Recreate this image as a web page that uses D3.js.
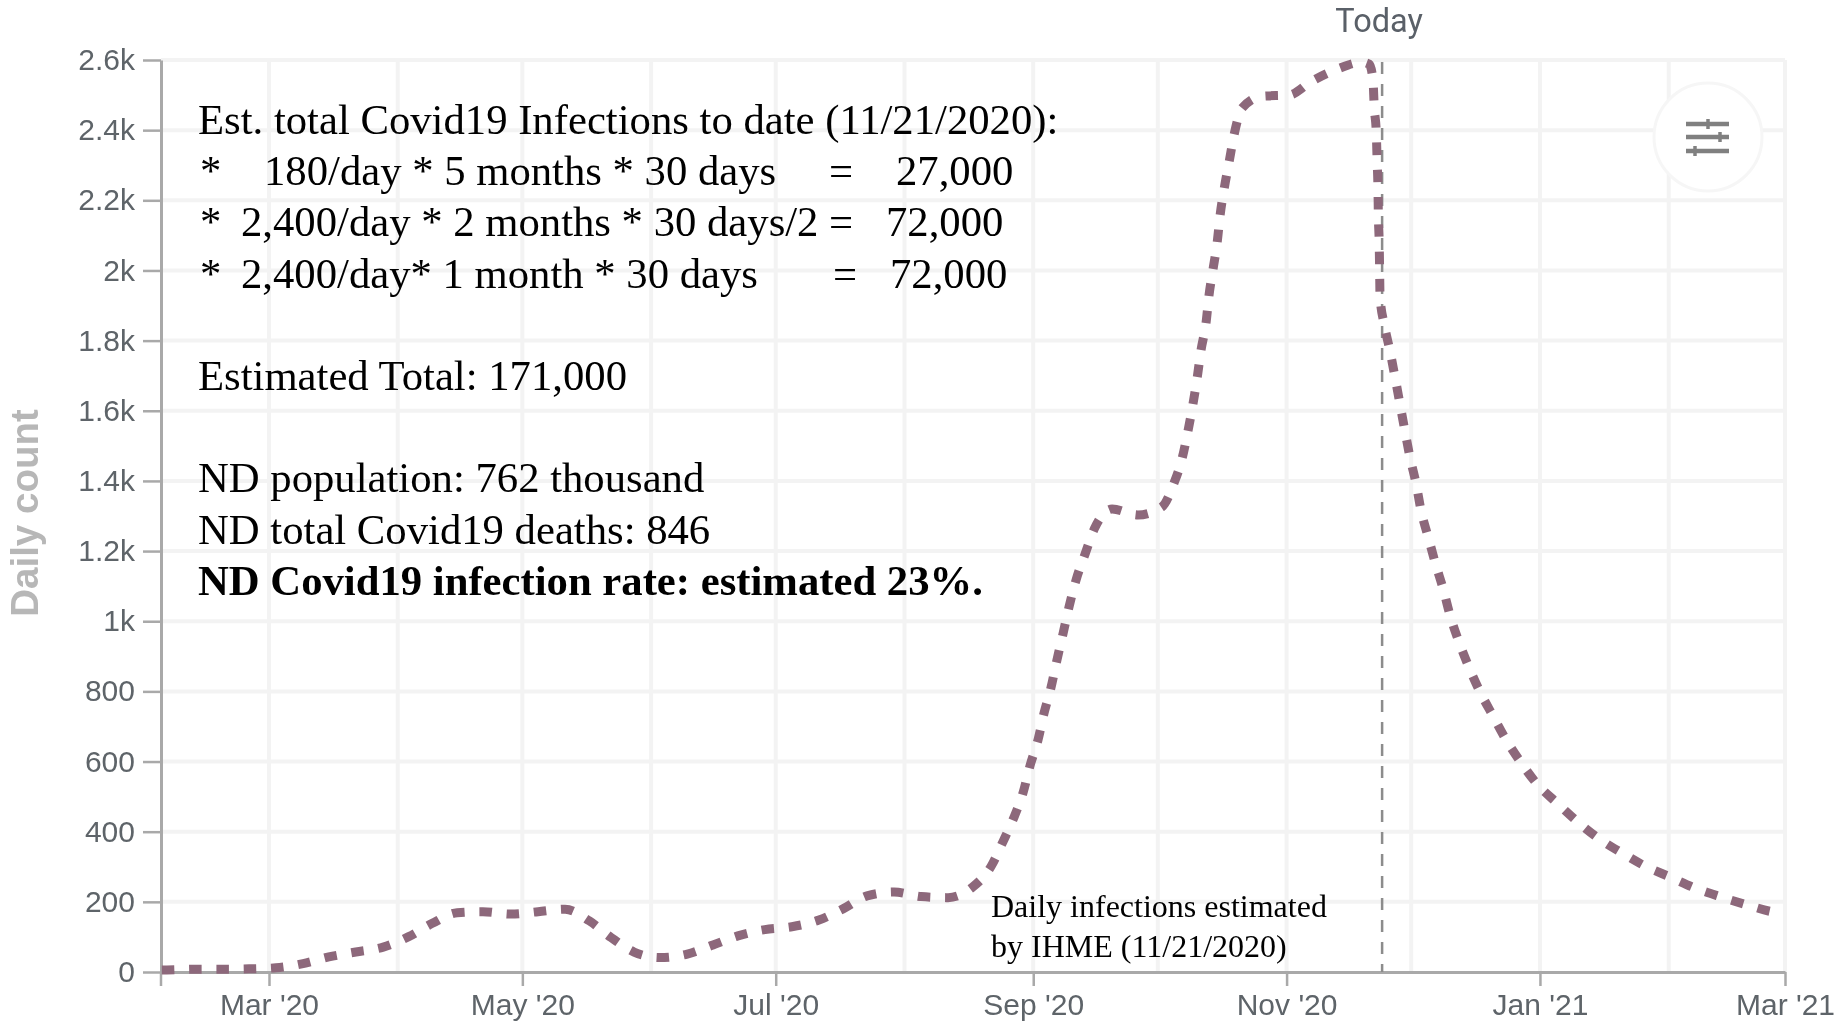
<!DOCTYPE html>
<html><head><meta charset="utf-8">
<script src="https://cdnjs.cloudflare.com/ajax/libs/d3/7.8.5/d3.min.js"></script>
<style>html,body{margin:0;padding:0;background:#fff;overflow:hidden}svg{display:block;filter:blur(0.5px)}text{white-space:pre}</style>
</head><body><svg id="c" width="1846" height="1022"></svg>
<script>
// Days since 1 Mar 2020
const dayOffsets=[-25.8,-24.6,-18.1,-11.3,-4.8,1.7,8.2,14.4,20.9,27.5,33.5,39.2,45.3,51.5,58.3,64.8,71.3,77.1,82.4,87.9,94.1,100.7,106.9,112.9,119.4,125.9,132.4,138.2,144,150.5,157,163.5,169.5,173.8,176.7,179.4,181.6,183.2,185.2,186.6,188.3,189.7,191.2,192.6,194.3,196.5,198.7,203,209.2,215,217.9,219.8,221.3,222.5,223.5,224.4,225.6,226.3,227.3,228.3,229,230,231.2,232.4,234.3,239.3,245.6,251.1,257.2,263.2,264.9,265.8,266.1,266.6,266.8,267,267.1,267.3,267.4,267.5,268.5,269.9,271.1,272.3,273.5,274.7,276.2,277.4,279.1,280.8,282.7,284.4,286.5,288.9,291.6,294.7,297.9,301.5,305.3,310.1,314.9,320,325.8,331.3,337.3,343.4,349.6,355.9,362.2,363.8];
const dailyInfections=[6,6,8,8,9,12,24,43,57,71,100,138,169,172,165,172,179,146,98,57,41,51,77,103,121,129,148,180,217,228,215,212,243,300,371,442,513,587,664,738,812,889,966,1040,1117,1192,1263,1320,1303,1326,1394,1462,1545,1622,1696,1773,1850,1927,2004,2081,2158,2235,2312,2389,2463,2497,2500,2540,2574,2594,2588,2543,2466,2392,2312,2235,2155,2078,2001,1924,1847,1770,1696,1619,1542,1468,1391,1314,1240,1166,1092,1015,941,869,798,730,661,596,536,482,430,382,339,302,271,239,214,191,171,168];
const yTicks=[0,200,400,600,800,1000,1200,1400,1600,1800,2000,2200,2400,2600];
const yLabels=["0","200","400","600","800","1k","1.2k","1.4k","1.6k","1.8k","2k","2.2k","2.4k","2.6k"];
const gridMonths=["2020-03-01","2020-04-01","2020-05-01","2020-06-01","2020-07-01","2020-08-01","2020-09-01","2020-10-01","2020-11-01","2020-12-01","2021-01-01","2021-02-01","2021-03-01"];
const xTickDates=["2020-03-01","2020-05-01","2020-07-01","2020-09-01","2020-11-01","2021-01-01","2021-03-01"];
const xTickLabels=["Mar '20","May '20","Jul '20","Sep '20","Nov '20","Jan '21","Mar '21"];
const todayDate="2020-11-24";
const noteLines=[
 [["Est. total Covid19 Infections to date (11/21/2020):",198]],
 [["*",200],["180/day * 5 months * 30 days",264],["=",829],["27,000",896]],
 [["*",200],["2,400/day * 2 months * 30 days/2 =",241],["72,000",886]],
 [["*",200],["2,400/day* 1 month * 30 days",241],["=",833],["72,000",890]],
 [],
 [["Estimated Total: 171,000",198]],
 [],
 [["ND population: 762 thousand",198]],
 [["ND total Covid19 deaths: 846",198]],
 [["ND Covid19 infection rate: estimated 23%.",198]]
];
const sourceLines=["Daily infections estimated","by IHME (11/21/2020)"];

const svg=d3.select("#c");
const L=161,R=1785,T=60,B=972;
const day0=Date.UTC(2020,2,1);
const toDate=d=>new Date(day0+d*864e5);
const x=d3.scaleUtc().domain([toDate(-26),new Date(Date.UTC(2021,2,1))]).range([L,R]);
const y=d3.scaleLinear().domain([0,2600]).range([B,T]);
const sans="'Liberation Sans',Arial,sans-serif", serif="'Liberation Serif','Times New Roman',serif";
const tickCol="#5e6469", axisCol="#a9a9a9", gridCol="#f3f3f3";

// grid
svg.append("g").selectAll("line").data(gridMonths).join("line")
 .attr("x1",d=>x(new Date(d))).attr("x2",d=>x(new Date(d))).attr("y1",T).attr("y2",B)
 .attr("stroke",gridCol).attr("stroke-width",4);
svg.append("g").selectAll("line").data(yTicks.slice(1)).join("line")
 .attr("x1",L).attr("x2",R).attr("y1",d=>y(d)).attr("y2",d=>y(d))
 .attr("stroke",gridCol).attr("stroke-width",4);

// axes
const yAxis=d3.axisLeft(y).tickValues(yTicks).tickSize(18).tickSizeOuter(0).tickPadding(8).tickFormat((d,i)=>yLabels[i]);
const gy=svg.append("g").attr("transform",`translate(${L},0)`).call(yAxis);
const xAxis=d3.axisBottom(x).tickValues(xTickDates.map(d=>new Date(d))).tickSize(14).tickSizeOuter(0).tickPadding(8).tickFormat((d,i)=>xTickLabels[i]);
const gx=svg.append("g").attr("transform",`translate(0,${B})`).call(xAxis);
[gy,gx].forEach(g=>{
 g.selectAll(".domain").attr("stroke",axisCol).attr("stroke-width",3);
 g.selectAll("line").attr("stroke",axisCol).attr("stroke-width",2.5);
 g.selectAll("text").attr("fill",tickCol).attr("font-family",sans).attr("font-size",30);
});
gx.append("line").attr("x1",L).attr("x2",L).attr("y1",0).attr("y2",14).attr("stroke",axisCol).attr("stroke-width",2.5);

svg.append("text").attr("transform","translate(38,513) rotate(-90)").attr("text-anchor","middle")
 .attr("font-family",sans).attr("font-weight","bold").attr("font-size",38.5).attr("fill","#b7b7b7").text("Daily count");

// today line
const tx=x(new Date(todayDate+"T00:00:00Z"));
svg.append("line").attr("x1",tx).attr("x2",tx).attr("y1",T+2).attr("y2",B)
 .attr("stroke","#8c8c8c").attr("stroke-width",2.5).attr("stroke-dasharray","12 10");
svg.append("text").attr("x",tx-3).attr("y",32).attr("text-anchor","middle")
 .attr("font-family","Roboto,sans-serif").attr("font-size",32.5).attr("fill","#5a6068").text("Today");

// series
const pts=dayOffsets.map((d,i)=>[toDate(d),dailyInfections[i]]);
svg.append("path").datum(pts).attr("fill","none").attr("stroke","#8d687b").attr("stroke-width",9)
 .attr("stroke-dasharray","12.5 14.8")
 .attr("d",d3.line().x(d=>x(d[0])).y(d=>y(d[1])).curve(d3.curveMonotoneX));

// settings button
const btn=svg.append("g").attr("transform","translate(1708,137)");
btn.append("circle").attr("r",54).attr("fill","#fff").attr("stroke","#f6f6f6").attr("stroke-width",3);
[[-13,0],[0,12],[14,-13]].forEach(([ky,knob])=>{
 btn.append("line").attr("x1",-22).attr("x2",21).attr("y1",ky).attr("y2",ky).attr("stroke","#808080").attr("stroke-width",4.5);
 btn.append("line").attr("x1",knob).attr("x2",knob).attr("y1",ky-5).attr("y2",ky+5).attr("stroke","#808080").attr("stroke-width",3.5);
});

// notes
const note=svg.append("g").attr("font-family",serif).attr("font-size",42.7).attr("fill","#000");
noteLines.forEach((segs,i)=>{
 const t=note.append("text").attr("y",134+51.2*i);
 if(i===noteLines.length-1)t.attr("font-weight","bold");
 segs.forEach(s=>t.append("tspan").attr("x",s[1]).text(s[0]));
});
svg.append("g").attr("font-family",serif).attr("font-size",32).attr("fill","#000")
 .selectAll("text").data(sourceLines).join("text").attr("x",991).attr("y",(d,i)=>917+40*i).text(d=>d);
</script></body></html>
